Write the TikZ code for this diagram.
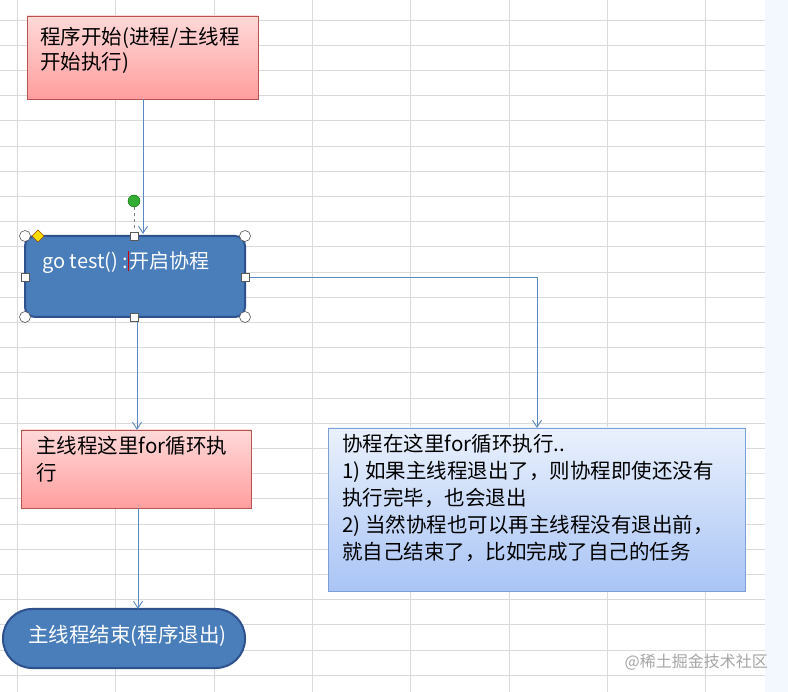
\documentclass[tikz,border=0pt]{standalone}
\usepackage{fontspec}
\setmainfont{Noto Sans CJK SC}
\usetikzlibrary{shapes.geometric,arrows.meta}
\definecolor{pinkA}{HTML}{FFD9D9}
\definecolor{pinkB}{HTML}{FF9E9E}
\definecolor{pinkE}{HTML}{B85450}
\definecolor{blueF}{HTML}{4A7EBB}
\definecolor{blueE}{HTML}{2F528F}
\definecolor{lblA}{HTML}{EAF1FD}
\definecolor{lblB}{HTML}{A9C4F5}
\definecolor{lblE}{HTML}{7BA0D8}
\definecolor{lineC}{HTML}{5B88C0}
\definecolor{gridC}{HTML}{DADADA}
\tikzset{
  pinkbox/.style={draw=pinkE,top color=pinkA,bottom color=pinkB,line width=0.8pt},
  bluebox/.style={draw=blueE,fill=blueF,line width=2pt},
  conn/.style={draw=lineC,line width=0.9pt,-{Straight Barb[length=7pt,width=9pt]}},
  txt/.style={font=\fontsize{20.5}{27}\selectfont,align=left,anchor=north west,inner sep=0pt},
  handle/.style={draw=gray!70!black,fill=white,line width=0.6pt}
}
\begin{document}
\begin{tikzpicture}[x=1pt,y=-1pt]
\useasboundingbox (0,0) rectangle (788,692);
\fill[white] (0,0) rectangle (788,692);
\fill[lblA!60] (765,0) rectangle (788,692);
% grid
\foreach \x in {17,115.5,214,312,410.5,509,607,705.5}
  \draw[gridC,line width=0.8pt] (\x,0) -- (\x,692);
\foreach \i in {0,...,27}
  \draw[gridC,line width=0.8pt] (0,20+\i*25.2) -- (765,20+\i*25.2);
% box 1
\path[pinkbox] (27,16) rectangle (258,99);
\node[txt,font=\fontsize{20.5}{25}\selectfont] (t1) at (40,27) {程序开始(进程/主线程\\开始执行)};
\coordinate (b1) at (143,99);
% box 2
\draw[bluebox,rounded corners=10pt] (25,236) rectangle (245,317);
\node[txt,text=white,font=\fontsize{20}{24}\selectfont] (t2) at (42,251) {go test() :{\color{red!80!black}\rule[-3pt]{1.2pt}{20pt}}开启协程};
\coordinate (b2top) at (135,234);
\coordinate (b2bot) at (137,317);
\coordinate (b2r) at (245,277);
% box 3
\path[pinkbox] (21,430) rectangle (251,508);
\node[txt] (t3) at (36,436) {主线程这里for循环执\\行};
\coordinate (b3top) at (137,430);
\coordinate (b3bot) at (138,508);
% box 4
\path[draw=lblE,top color=lblA,bottom color=lblB,line width=0.8pt] (328,428) rectangle (745,591);
\node[txt] (t4) at (342,434) {协程在这里for循环执行..\\1) 如果主线程退出了，则协程即使还没有\\执行完毕，也会退出\\2) 当然协程也可以再主线程没有退出前，\\就自己结束了，比如完成了自己的任务};
\coordinate (b4top) at (537,428);
% box 5
\draw[bluebox,rounded corners=29pt] (3,609) rectangle (245,668);
\node[txt,text=white] (t5) at (28,625) {主线程结束(程序退出)};
\coordinate (b5top) at (138,609);
% connectors
\draw[conn] (b1) -- (b1 |- b2top);
\draw[conn] (b2bot) -- (b3top);
\draw[conn] (b2r) -- (537,277) -- (b4top);
\draw[conn] (b3bot) -- (b5top);
% selection handles
\draw[gray,line width=0.6pt,dashed] (134,201) -- (134,228);
\fill[green!60!black!80!white] (134,201) circle (6);
\draw[green!40!black] (134,201) circle (6);
\foreach \hx/\hy in {25/236,245/236,25/317,245/317}
  \draw[handle] (\hx,\hy) circle (5.5);
\foreach \hx/\hy in {134/236,134/317,25/277,245/277}
  \draw[handle] (\hx-4,\hy-4) rectangle (\hx+4,\hy+4);
\draw[draw=orange!60!black,fill=yellow!80!orange,line width=0.5pt] (38,230) -- (44,236) -- (38,242) -- (32,236) -- cycle;
% watermark
\node[font=\fontsize{16}{18}\selectfont,text=gray!70,anchor=east,inner sep=0pt] (wm) at (768,662) {@稀土掘金技术社区};
\end{tikzpicture}
\end{document}
